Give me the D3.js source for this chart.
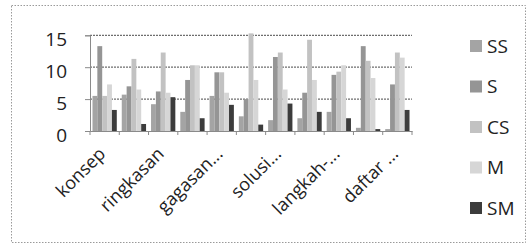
<!DOCTYPE html>
<html>
<head>
<meta charset="utf-8">
<script src="https://cdn.jsdelivr.net/npm/d3@7"></script>
<style>
  body { margin: 0; background: #fff; }
  svg { display: block; font-family: "Open Sans", sans-serif; }
</style>
</head>
<body>
<div id="chart"></div>
<script>
// frame constants
const FRAME_WIDTH = 530;
const FRAME_HEIGHT = 246;
const PLOT = {left: 90, right: 412, top: 35.3, bottom: 131};

// data (only every other category label is shown)
const CATEGORIES = ["konsep", "", "ringkasan", "", "gagasan...", "",
                    "solusi...", "", "langkah-...", "", "daftar ..."];
const SERIES = ["SS", "S", "CS", "M", "SM"];
const SS = [5.5, 5.7, 4.2, 3.0, 5.5, 2.3, 1.7, 2.0, 3.0, 0.5, 0.3];
const S  = [13.3, 7.0, 6.2, 8.0, 9.2, 5.0, 11.6, 6.0, 8.8, 13.3, 7.3];
const CS = [5.5, 11.3, 12.3, 10.3, 9.2, 15.3, 12.3, 14.3, 9.3, 11.0, 12.3];
const M  = [7.3, 6.5, 6.0, 10.3, 6.0, 8.0, 6.5, 8.0, 10.3, 8.3, 11.5];
const SM = [3.3, 1.1, 5.3, 2.0, 4.1, 1.0, 4.3, 3.0, 2.0, 0.3, 3.3];
const Y_TICKS = [0, 5, 10, 15];

const VALUES = [SS, S, CS, M, SM];
const COLORS = ["#a4a4a4", "#959595", "#c2c2c2", "#d6d6d6", "#3c3c3c"];

const FRAME = d3.select("#chart")
  .append("svg")
  .attr("width", FRAME_WIDTH)
  .attr("height", FRAME_HEIGHT);

// dotted outer border
FRAME.append("rect")
  .attr("x", 11.5).attr("y", 5.5)
  .attr("width", 514).attr("height", 237)
  .attr("fill", "none")
  .attr("stroke", "#9a9a9a")
  .attr("stroke-dasharray", "1.5,1.5");

const IDX = d3.range(CATEGORIES.length);

const X_SCALE = d3.scaleBand()
  .domain(IDX)
  .range([PLOT.left, PLOT.right])
  .paddingInner(0.17)
  .paddingOuter(0.085);

const X_SUB = d3.scaleBand()
  .domain(SERIES)
  .range([0, X_SCALE.bandwidth()]);

const Y_SCALE = d3.scaleLinear()
  .domain([0, 15])
  .range([PLOT.bottom, PLOT.top]);

// gridlines
FRAME.append("g")
  .selectAll("line")
  .data(Y_TICKS.filter(d => d > 0))
  .enter()
  .append("line")
  .attr("x1", PLOT.left).attr("x2", PLOT.right)
  .attr("y1", d => Y_SCALE(d)).attr("y2", d => Y_SCALE(d))
  .attr("stroke", "#6e6e6e")
  .attr("stroke-width", 1.2)
  .attr("stroke-dasharray", "2,1");

// bars
const GROUPS = FRAME.append("g")
  .selectAll("g")
  .data(IDX)
  .enter()
  .append("g")
  .attr("transform", i => "translate(" + X_SCALE(i) + ",0)");

GROUPS.selectAll("rect")
  .data(i => SERIES.map((s, k) => ({s: s, k: k, v: VALUES[k][i]})))
  .enter()
  .append("rect")
  .attr("x", d => X_SUB(d.s))
  .attr("y", d => Y_SCALE(d.v))
  .attr("width", X_SUB.bandwidth())
  .attr("height", d => PLOT.bottom - Y_SCALE(d.v))
  .attr("fill", d => COLORS[d.k]);

// y axis
const Y_AXIS = FRAME.append("g")
  .attr("transform", "translate(" + PLOT.left + ",0)")
  .call(d3.axisLeft(Y_SCALE).tickValues(Y_TICKS).tickSize(5).tickPadding(18));
Y_AXIS.select(".domain").attr("stroke", "#8a8a8a");
Y_AXIS.selectAll(".tick line").attr("stroke", "#8a8a8a");
Y_AXIS.selectAll("text")
  .attr("font-size", "19px")
  .attr("fill", "#222")
  .attr("font-family", "Open Sans, sans-serif")
  .attr("dy", "0.55em");

// x axis
const X_AXIS = FRAME.append("g")
  .attr("transform", "translate(0," + PLOT.bottom + ")")
  .call(d3.axisBottom(X_SCALE).tickSize(0).tickFormat(""));
X_AXIS.select(".domain").attr("stroke", "#8a8a8a");

// category boundary ticks
FRAME.append("g")
  .selectAll("line")
  .data(d3.range(CATEGORIES.length + 1))
  .enter()
  .append("line")
  .attr("x1", i => PLOT.left + i * (PLOT.right - PLOT.left) / CATEGORIES.length)
  .attr("x2", i => PLOT.left + i * (PLOT.right - PLOT.left) / CATEGORIES.length)
  .attr("y1", PLOT.bottom).attr("y2", PLOT.bottom + 4)
  .attr("stroke", "#8a8a8a");

// rotated category labels
FRAME.append("g")
  .selectAll("text")
  .data(IDX.filter(i => CATEGORIES[i] !== ""))
  .enter()
  .append("text")
  .attr("transform", i => "translate(" + (X_SCALE(i) + X_SCALE.bandwidth() / 2 + 2) + "," + (PLOT.bottom + 24) + ") rotate(-45)")
  .attr("text-anchor", "end")
  .attr("font-size", "18px")
  .attr("fill", "#222")
  .text(i => CATEGORIES[i]);

// legend
const LEGEND = FRAME.append("g")
  .selectAll("g")
  .data(SERIES)
  .enter()
  .append("g")
  .attr("transform", (d, k) => "translate(470," + (46 + k * 40.5) + ")");

LEGEND.append("rect")
  .attr("x", 0).attr("y", -6)
  .attr("width", 12).attr("height", 12)
  .attr("fill", (d, k) => COLORS[k]);

LEGEND.append("text")
  .attr("x", 17)
  .attr("dy", "0.36em")
  .attr("font-size", "19px")
  .attr("fill", "#222")
  .text(d => d);
</script>
</body>
</html>
